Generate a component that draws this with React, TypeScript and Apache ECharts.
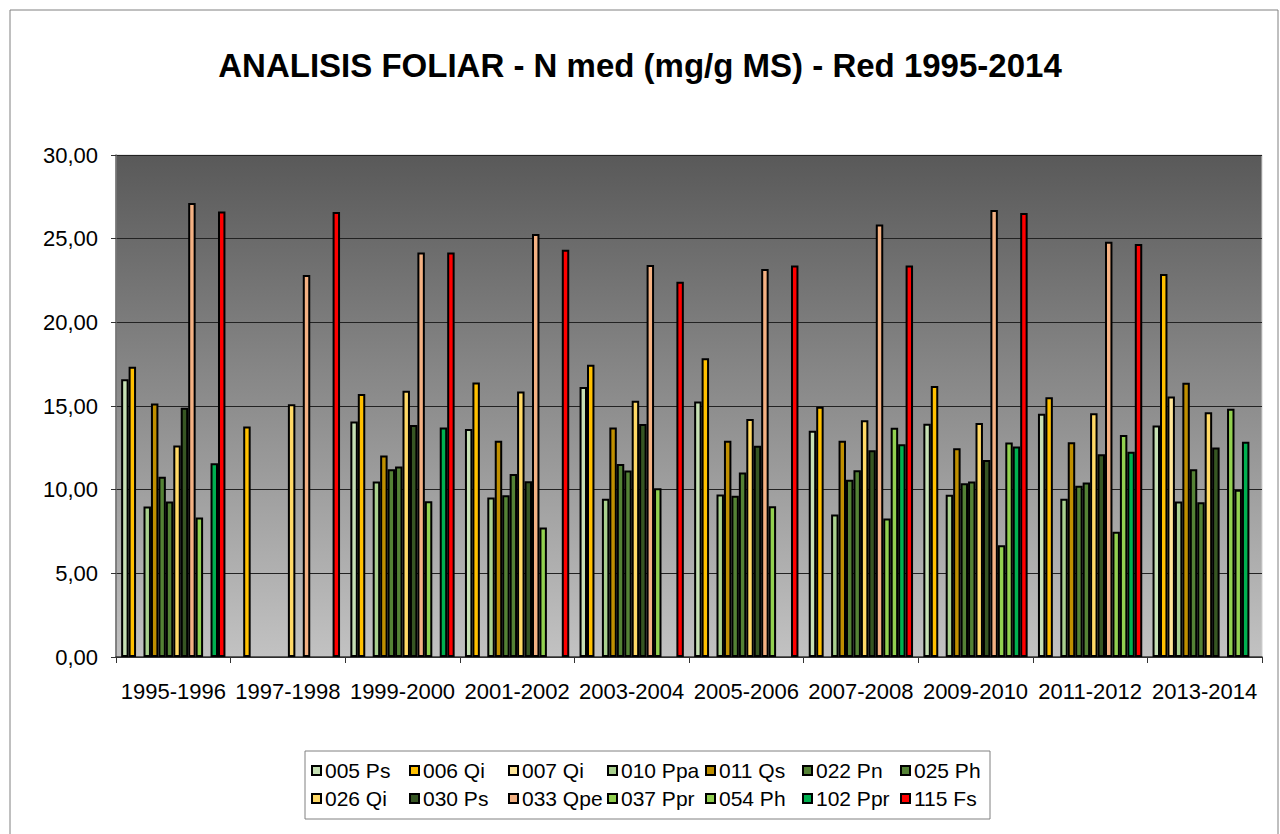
import React, { useEffect, useRef } from "react";
import * as echarts from "echarts";

const categories = [
  "1995-1996", "1997-1998", "1999-2000", "2001-2002", "2003-2004",
  "2005-2006", "2007-2008", "2009-2010", "2011-2012", "2013-2014",
];

const seriesNames = [
  "005 Ps", "006 Qi", "007 Qi", "010 Ppa", "011 Qs", "022 Pn", "025 Ph",
  "026 Qi", "030 Ps", "033 Qpe", "037 Ppr", "054 Ph", "102 Ppr", "115 Fs",
];

const seriesColors = [
  "#C6E0B4", "#FFC000", "#FFE699", "#A9D08E", "#BF8F00", "#548235", "#548235",
  "#FFD966", "#375623", "#F4B183", "#92D050", "#92D050", "#00B050", "#FF0000",
];

const s005 = [16.6, null, 14.07, 13.62, 16.13, 15.27, 13.52, 13.94, 14.53, 13.84];
const s006 = [17.34, 13.78, 15.71, 16.41, 17.46, 17.86, 14.95, 16.19, 15.53, 22.89];
const s007 = [null, null, null, null, null, null, null, null, null, 15.57];
const s010 = [8.99, null, 10.49, 9.53, 9.45, 9.71, 8.51, 9.69, 9.45, 9.29];
const s011 = [15.15, null, 12.04, 12.92, 13.72, 12.92, 12.92, 12.48, 12.84, 16.39];
const s022 = [10.77, null, 11.22, 9.67, 11.54, 9.63, 10.59, 10.39, 10.23, 11.22];
const s025 = [9.29, null, 11.38, 10.94, 11.14, 11.02, 11.16, 10.49, 10.43, 9.25];
const s026 = [12.64, 15.11, 15.91, 15.87, 15.31, 14.23, 14.15, 13.98, 14.57, 14.63];
const s030 = [14.89, null, 13.86, 10.51, 13.92, 12.62, 12.36, 11.78, 12.12, 12.52];
const s033 = [27.13, 22.83, 24.18, 25.28, 23.43, 23.19, 25.84, 26.71, 24.82, null];
const s037 = [8.33, null, 9.31, 7.74, 10.09, 9.01, 8.27, 6.68, 7.48, 14.83];
const s054 = [null, null, null, null, null, null, 13.7, 12.82, 13.26, 9.99];
const s102 = [11.58, null, 13.72, null, null, null, 12.72, 12.58, 12.26, 12.86];
const s115 = [26.63, 26.6, 24.18, 24.34, 22.43, 23.39, 23.39, 26.54, 24.68, null];

const seriesData = [s005, s006, s007, s010, s011, s022, s025, s026, s030, s033, s037, s054, s102, s115];

const yTicks = { min: 0, max: 30, interval: 5 };

const legendColumnsX = [311, 409, 508, 607, 705, 802, 900];

const FONT = "'Liberation Sans', Arial, sans-serif";

export default function App() {
  const ref = useRef<HTMLDivElement>(null);

  useEffect(() => {
    if (!ref.current) return;
    const chart = echarts.init(ref.current, undefined, { renderer: "svg" });

    const legends = legendColumnsX.map((x, i) => ({
      orient: "vertical",
      left: x,
      top: 760,
      padding: 0,
      itemGap: 7,
      itemWidth: 9,
      itemHeight: 9,
      icon: "rect",
      selectedMode: false,
      itemStyle: { borderColor: "#000", borderWidth: 2 },
      textStyle: { fontSize: 21, lineHeight: 21, fontFamily: FONT, color: "#000", padding: [0, 0, 0, -1] },
      data: [seriesNames[i], seriesNames[i + 7]],
    }));

    const option: any = {
      animation: false,
      backgroundColor: "#ffffff",
      title: {
        text: "ANALISIS FOLIAR - N med (mg/g MS) - Red 1995-2014",
        left: "center",
        top: 44,
        textStyle: { fontSize: 33, fontWeight: "bold", fontFamily: FONT, color: "#000" },
      },
      legend: legends,
      grid: {
        left: 116,
        top: 155,
        right: 18,
        bottom: 177,
        show: true,
        borderColor: "#d0d0d0",
        borderWidth: 1,
        backgroundColor: new echarts.graphic.LinearGradient(0, 0, 0, 1, [
          { offset: 0, color: "#595959" },
          { offset: 1, color: "#c2c2c2" },
        ]),
      },
      xAxis: {
        type: "category",
        data: categories,
        axisLine: { show: true, lineStyle: { color: "#333", width: 1.5 } },
        axisTick: { show: true, length: 6, lineStyle: { color: "#333" } },
        axisLabel: { interval: 0, fontSize: 22, fontFamily: FONT, color: "#000", margin: 23 },
        splitLine: { show: false },
      },
      yAxis: {
        type: "value",
        min: yTicks.min,
        max: yTicks.max,
        interval: yTicks.interval,
        axisLine: { show: true, lineStyle: { color: "#666", width: 1.5 } },
        axisTick: { show: true, length: 5, lineStyle: { color: "#333" } },
        axisLabel: {
          fontSize: 22,
          fontFamily: FONT,
          color: "#000",
          margin: 18,
          formatter: (v: number) => v.toFixed(2).replace(".", ","),
        },
        splitLine: { show: true, lineStyle: { color: "#222", width: 1 } },
      },
      graphic: [
        {
          type: "rect",
          shape: { x: 10, y: 10, width: 1268, height: 840 },
          style: { fill: "none", stroke: "#808080", lineWidth: 1 },
          silent: true,
        },
        {
          type: "rect",
          shape: { x: 305, y: 751, width: 685, height: 68 },
          style: { fill: "none", stroke: "#808080", lineWidth: 1 },
          silent: true,
        },
      ],
      series: seriesNames.map((name, i) => ({
        name,
        type: "bar",
        data: seriesData[i],
        barGap: "0%",
        barCategoryGap: "9%",
        itemStyle: { color: seriesColors[i], borderColor: "#000", borderWidth: 2 },
      })),
    };

    chart.setOption(option);
    return () => chart.dispose();
  }, []);

  return (
    <div
      ref={ref}
      style={{ position: "fixed", left: 0, top: 0, width: 1280, height: 834 }}
    />
  );
}
